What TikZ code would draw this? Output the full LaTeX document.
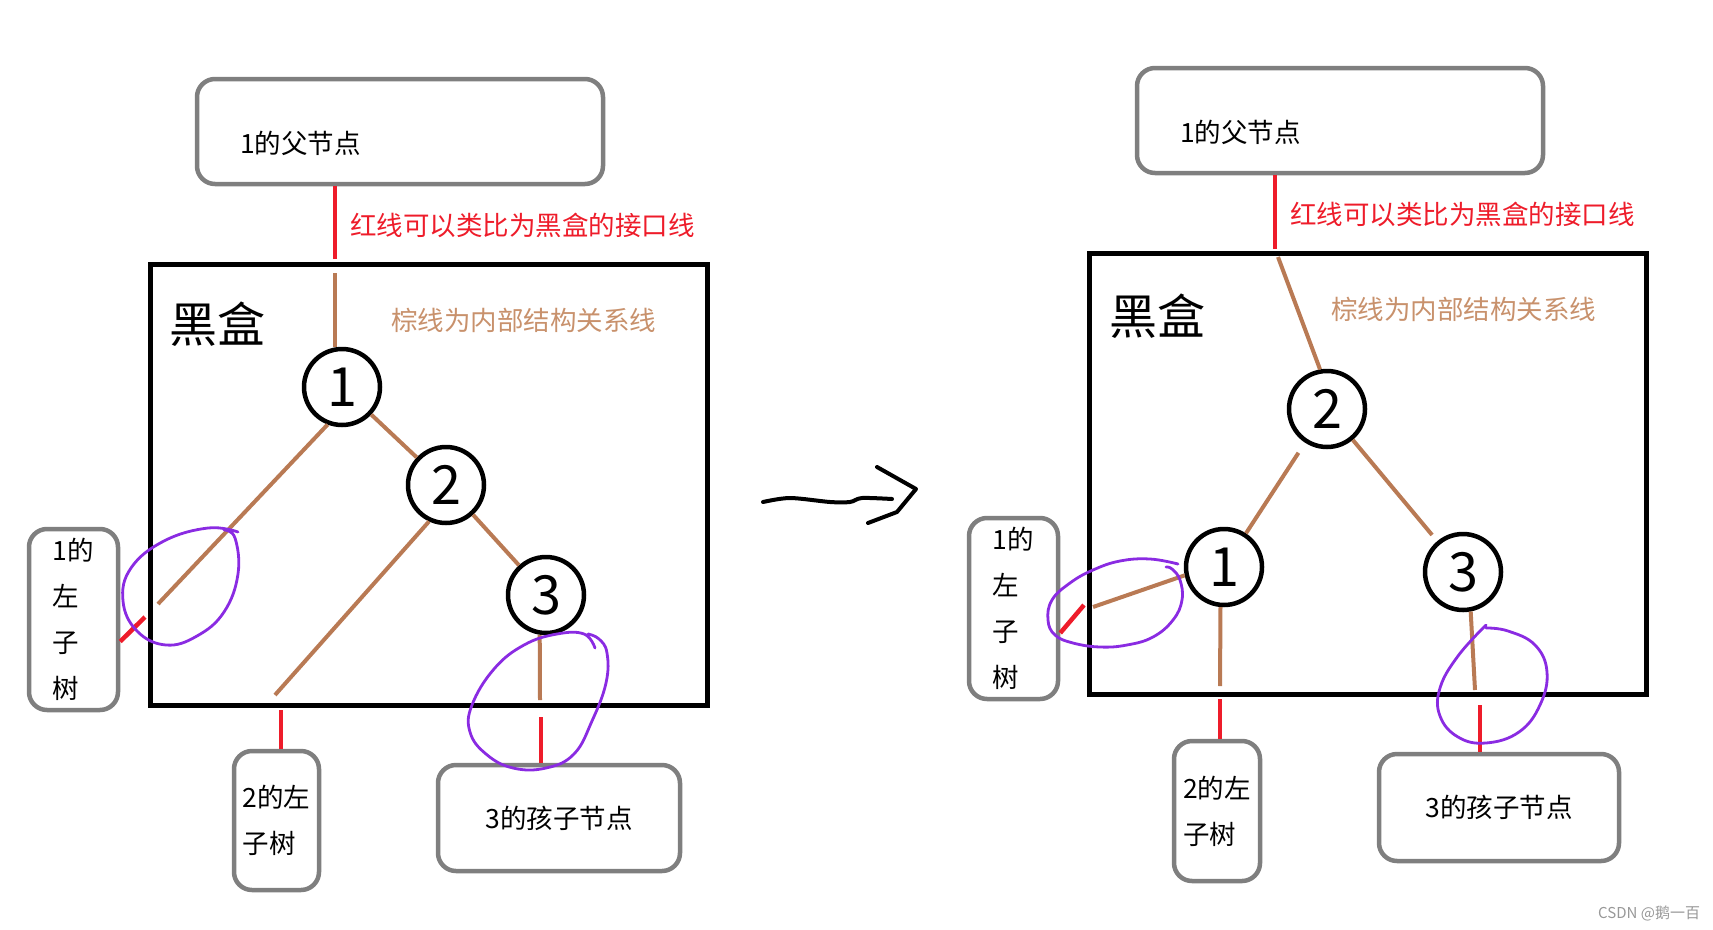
\documentclass[tikz,border=0pt]{standalone}
\usepackage{fontspec}
\setmainfont{Noto Sans CJK SC}
\definecolor{bbRed}{HTML}{EE1C2A}
\definecolor{bbBrown}{HTML}{B97A54}
\definecolor{bbTan}{HTML}{C8916C}
\definecolor{bbPurple}{HTML}{8A2BE2}
\definecolor{bbGray}{HTML}{7F7F7F}
\newcommand{\bbtext}{\fontsize{26.5pt}{46pt}\selectfont}
\newcommand{\bbbig}{\fontsize{48pt}{52pt}\selectfont}
\newcommand{\bbnum}{\fontsize{54pt}{56pt}\selectfont}

\begin{document}
\begin{tikzpicture}[x=1pt, y=-1pt,
    tnode/.style={circle, draw, line width=4.5pt, minimum size=76pt, inner sep=0pt, font=\bbnum},
    gbox/.style={draw=bbGray, line width=4.5pt, rounded corners=18pt, inner sep=0pt, font=\bbtext, align=left},
    bbox/.style={draw, line width=5pt, inner sep=0pt},
    lbl/.style={font=\bbtext, anchor=west, inner sep=0pt},
    brline/.style={bbBrown, line width=4pt},
    rdline/.style={bbRed, line width=4.5pt},
    pring/.style={bbPurple, line width=2.8pt, line cap=round}]
    \useasboundingbox (0,0) rectangle (1713,929);

    % left: before the rotation
    \node[gbox, minimum width=406pt, minimum height=105pt] (lpar) at (400,131.5) {};
    \node[lbl] (lpartxt) at (240,143) {1的父节点};
    \node[lbl, text=bbRed] (lnote) at (350,225) {红线可以类比为黑盒的接口线};
    \node[bbox, minimum width=557pt, minimum height=441pt] (lblack) at (428.5,484.5) {};
    \node[lbl, font=\bbbig] (lname) at (169,324) {黑盒};
    \node[lbl, text=bbTan] (linner) at (391,320) {棕线为内部结构关系线};

    \node[tnode] (l1) at (342,387) {1};
    \node[tnode] (l2) at (446,485) {2};
    \node[tnode] (l3) at (546,595) {3};

    \node[gbox, minimum width=89pt, minimum height=181pt] (lsub1) at (73.5,619.5) {1的\\左\\子\\树};
    \node[gbox, minimum width=85pt, minimum height=139pt] (lsub2) at (276.5,820.5) {2的左\\子树};
    \node[gbox, minimum width=242pt, minimum height=106pt] (lkid) at (559,818) {3的孩子节点};

    \coordinate (lpin) at (335,259);
    \coordinate (ltop) at (335,273);
    \coordinate (l1end) at (158,604);
    \coordinate (l1pin) at (145,617);
    \coordinate (l2end) at (275,695);
    \coordinate (l2pin) at (281,710);
    \coordinate (l3end) at (540,700);
    \coordinate (l3pin) at (541,717);

    \path[brline]
        (ltop) edge (ltop |- l1.north)
        (l1) edge (l2)
        (l2) edge (l3)
        (l1.249) edge (l1end)
        (l2.245) edge (l2end)
        (l3.261) edge (l3end)
    ;
    \path[rdline]
        (lpin) edge (lpin |- lpar.south)
        (l1pin) edge ([yshift=-22pt]lsub1.east)
        (l2pin) edge (l2pin |- lsub2.north)
        (l3pin) edge (l3pin |- lkid.north)
    ;
    \draw[pring] plot[smooth, tension=0.7] coordinates {(238,532) (208,528) (164,541) (131,568) (123,601) (137,631) (166,645) (197,636) (224,612) (238,574) (235,538) (224,530)};
    \draw[pring] plot[smooth, tension=0.7] coordinates {(595,648) (584,634) (557,634) (524,645) (494,669) (472,705) (470,732) (486,754) (513,768) (546,768) (574,754) (592,721) (606,683) (607,653) (599,639) (588,634)};

    % the hand drawn arrow
    \draw[line width=4pt, line cap=round, line join=round] plot[smooth] coordinates {(763,502) (790,498) (830,502) (850,502) (862,498) (892,499)};
    \draw[line width=4pt, line cap=round, line join=round] (877,467) -- (916,489) -- (897,512) -- (868,523);

    % right: after the rotation
    \node[gbox, minimum width=406pt, minimum height=105pt] (rpar) at (1340,120.5) {};
    \node[lbl] (rpartxt) at (1180,132) {1的父节点};
    \node[lbl, text=bbRed] (rnote) at (1290,214) {红线可以类比为黑盒的接口线};
    \node[bbox, minimum width=557pt, minimum height=441pt] (rblack) at (1367.5,473.5) {};
    \node[lbl, font=\bbbig] (rname) at (1109,316) {黑盒};
    \node[lbl, text=bbTan] (rinner) at (1331,309) {棕线为内部结构关系线};

    \node[tnode] (r2) at (1327,409) {2};
    \node[tnode] (r1) at (1224,567) {1};
    \node[tnode] (r3) at (1463,572) {3};

    \node[gbox, minimum width=89pt, minimum height=181pt] (rsub1) at (1013.5,608.5) {1的\\左\\子\\树};
    \node[gbox, minimum width=86pt, minimum height=140pt] (rsub2) at (1217,811) {2的左\\子树};
    \node[gbox, minimum width=240pt, minimum height=107pt] (rkid) at (1499,807.5) {3的孩子节点};

    \coordinate (rpin) at (1275,249);
    \coordinate (rtop) at (1278,257);
    \coordinate (r1end) at (1093,607);
    \coordinate (r1pin) at (1084,605);
    \coordinate (r2end) at (1220,686);
    \coordinate (r2pin) at (1220,699);
    \coordinate (r3end) at (1475,690);
    \coordinate (r3pin) at (1480,705);

    \path[brline]
        (rtop) edge (r2.100)
        (r2) edge[shorten <=12pt] (r1)
        (r2) edge[shorten >=8pt] (r3)
        (r1.192) edge (r1end)
        (r1.265) edge (r2end)
        (r3.281) edge (r3end)
    ;
    \path[rdline]
        (rpin) edge (rpin |- rpar.south)
        (r1pin) edge ([yshift=-24.5pt]rsub1.east)
        (r2pin) edge (r2pin |- rsub2.north)
        (r3pin) edge (r3pin |- rkid.north)
    ;
    \draw[pring] plot[smooth, tension=0.7] coordinates {(1178,564) (1150,559) (1120,561) (1093,570) (1070,583) (1052,600) (1048,620) (1055,635) (1073,643) (1100,647) (1127,645) (1153,637) (1173,620) (1182,600) (1180,580) (1172,569) (1166,567)};
    \draw[pring] plot[smooth, tension=0.7] coordinates {(1486,625) (1458,656) (1440,688) (1440,716) (1458,737) (1486,743) (1519,732) (1540,705) (1547,672) (1535,645) (1508,631) (1486,628)};

    \node[lbl, font=\fontsize{15pt}{17pt}\selectfont, text=bbGray!80] (mark) at (1598,913) {CSDN @鹅一百};
\end{tikzpicture}
\end{document}
